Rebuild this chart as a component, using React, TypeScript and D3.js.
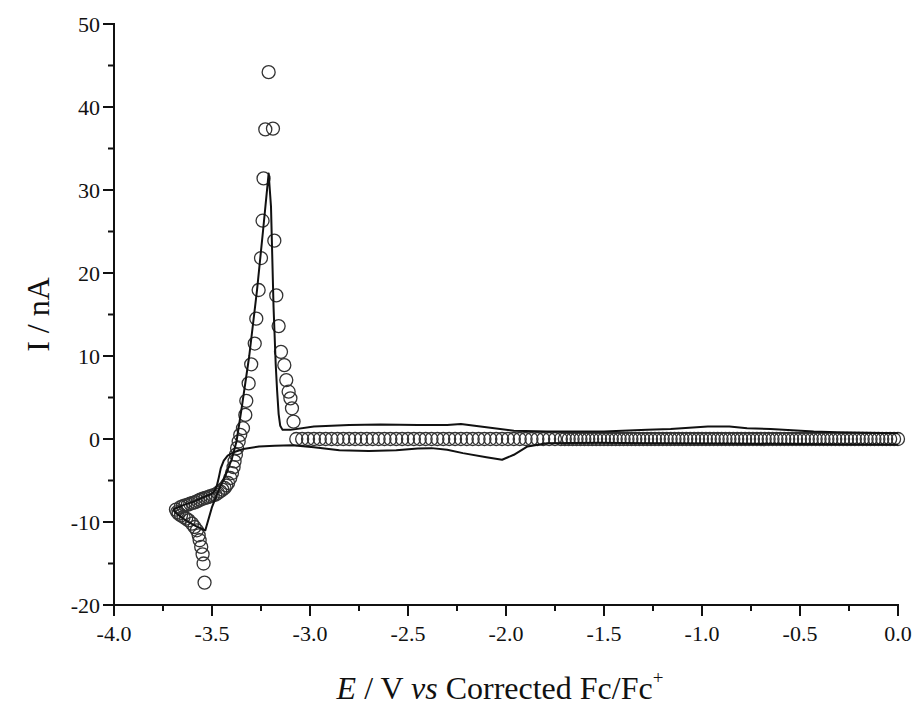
import React from "react";
import * as d3 from "d3";

// ---- Data ----
// Solid line: experimental CV, forward (cathodic) scan
const forwardE = [0, -0.31, -0.5, -0.8, -1.0, -1.3, -1.52, -1.79, -1.89, -1.96, -2.02, -2.1, -2.22, -2.3, -2.38, -2.45, -2.56, -2.7, -2.85, -2.98, -3.09, -3.18, -3.26, -3.34, -3.39, -3.42, -3.44, -3.455, -3.465, -3.475, -3.485, -3.5, -3.55, -3.6, -3.65, -3.69, -3.7];
const forwardI = [-0.65, -0.62, -0.6, -0.58, -0.55, -0.5, -0.45, -0.5, -0.9, -1.9, -2.5, -2.2, -1.7, -1.3, -1.1, -1.15, -1.35, -1.45, -1.35, -1.0, -0.75, -0.8, -0.9, -1.2, -1.6, -2.0, -2.6, -3.5, -4.6, -5.6, -6.2, -6.6, -7.1, -7.6, -8.0, -8.4, -8.5];
// Solid line: reverse (anodic) scan
const reverseE = [-3.7, -3.68, -3.64, -3.59, -3.534, -3.5, -3.47, -3.43, -3.4, -3.375, -3.35, -3.31, -3.27, -3.24, -3.211, -3.205, -3.199, -3.186, -3.175, -3.168, -3.16, -3.152, -3.14, -3.1, -2.98, -2.8, -2.64, -2.45, -2.3, -2.23, -2.13, -1.96, -1.79, -1.5, -1.28, -1.16, -0.97, -0.86, -0.77, -0.65, -0.43, -0.31, 0];
const reverseI = [-8.5, -9.0, -9.7, -10.4, -11.0, -8.2, -6.4, -4.3, -2.5, -0.3, 3.5, 10, 18, 25, 32, 30, 28, 15.9, 9, 5.9, 3, 1.6, 1.1, 1.1, 1.5, 1.7, 1.75, 1.7, 1.7, 1.8, 1.5, 1.0, 0.9, 0.9, 1.1, 1.2, 1.5, 1.5, 1.3, 1.2, 0.9, 0.8, 0.7];

// Open circles: simulated points around the deposition / stripping region
const circleE = [-3.538, -3.543, -3.548, -3.555, -3.563, -3.568, -3.577, -3.589, -3.602, -3.619, -3.632, -3.645, -3.658, -3.67, -3.677, -3.684,
  -3.66, -3.648, -3.636, -3.623, -3.611, -3.598, -3.585, -3.572, -3.56, -3.547, -3.534, -3.521, -3.509, -3.496, -3.483, -3.47, -3.458, -3.447, -3.436, -3.427, -3.418, -3.407, -3.398, -3.39, -3.385, -3.378, -3.372, -3.364, -3.356,
  -3.342, -3.33, -3.325, -3.313, -3.3, -3.282, -3.274, -3.262, -3.25, -3.242, -3.237, -3.228, -3.211,
  -3.189, -3.182, -3.172, -3.16, -3.148, -3.131, -3.121, -3.109, -3.1, -3.092, -3.084];
const circleI = [-17.3, -15.0, -13.9, -13.0, -12.2, -11.6, -11.0, -10.6, -10.2, -9.8, -9.6, -9.4, -9.2, -9.0, -8.8, -8.5,
  -8.2, -8.1, -8.0, -7.9, -7.8, -7.7, -7.6, -7.45, -7.3, -7.2, -7.1, -7.0, -6.9, -6.8, -6.7, -6.5, -6.3, -6.1, -5.9, -5.6, -5.3, -4.7, -4.1, -3.4, -2.7, -1.9, -1.1, -0.3, 0.5,
  1.3, 2.9, 4.6, 6.7, 9.0, 11.5, 14.5, 17.95, 21.8, 26.3, 31.4, 37.3, 44.2,
  37.4, 23.9, 17.3, 13.6, 10.5, 8.9, 7.1, 5.7, 4.9, 3.7, 2.1];

// Open circles: flat zero-current band
const bandE = [-3.07, -3.04, -3.01, -2.98, -2.95, -2.92, -2.89, -2.86, -2.83, -2.8, -2.77, -2.74, -2.71, -2.68, -2.65, -2.62, -2.59, -2.56, -2.53, -2.5, -2.47, -2.44, -2.41, -2.38, -2.35, -2.32, -2.29, -2.26, -2.23, -2.2, -2.17, -2.14, -2.11, -2.08, -2.05, -2.02, -1.99, -1.96, -1.93, -1.9, -1.87, -1.84, -1.81, -1.78, -1.75,
  -1.72, -1.7, -1.68, -1.66, -1.64, -1.62, -1.6, -1.58, -1.56, -1.54, -1.52, -1.5, -1.48, -1.46, -1.44, -1.42, -1.4, -1.38, -1.36, -1.34, -1.32, -1.3, -1.28, -1.26, -1.24, -1.22, -1.2, -1.18, -1.16, -1.14, -1.12, -1.1, -1.08, -1.06, -1.04, -1.02, -1.0,
  -0.98, -0.96, -0.94, -0.92, -0.9, -0.88, -0.86, -0.84, -0.82, -0.8, -0.78, -0.76, -0.74, -0.72, -0.7, -0.68, -0.66, -0.64, -0.62, -0.6, -0.58, -0.56, -0.54, -0.52, -0.5,
  -0.48, -0.46, -0.44, -0.42, -0.4, -0.38, -0.36, -0.34, -0.32, -0.3, -0.28, -0.26, -0.24, -0.22, -0.2, -0.18, -0.16, -0.14, -0.12, -0.1, -0.08, -0.06, -0.04, -0.02, 0];
const bandI = 0;

const xMajorTicks = [-4.0, -3.5, -3.0, -2.5, -2.0, -1.5, -1.0, -0.5, 0.0];
const xMinorTicks = [-3.75, -3.25, -2.75, -2.25, -1.75, -1.25, -0.75, -0.25];
const yMajorTicks = [-20, -10, 0, 10, 20, 30, 40, 50];
const yMinorTicks = [-15, -5, 5, 15, 25, 35, 45];

const FONT = "'Liberation Serif', 'Times New Roman', serif";

export default function App() {
  const W = 916, H = 706;
  const left = 114, right = 898, top = 24, bottom = 605;
  const x = d3.scaleLinear().domain([-4, 0]).range([left, right]);
  const y = d3.scaleLinear().domain([-20, 50]).range([bottom, top]);

  const line = d3.line<[number, number]>().x(d => x(d[0])).y(d => y(d[1])).curve(d3.curveLinear);
  const fwd: [number, number][] = forwardE.map((e, i) => [e, forwardI[i]]);
  const rev: [number, number][] = reverseE.map((e, i) => [e, reverseI[i]]);

  const circles: [number, number][] = [
    ...bandE.map(e => [e, bandI] as [number, number]),
    ...circleE.map((e, i) => [e, circleI[i]] as [number, number]),
  ];

  const fmtX = (v: number) => v.toFixed(1);

  return (
    <svg width={W} height={H} style={{ position: "absolute", left: 0, top: 0, background: "#fff" }}>
      <rect x={0} y={0} width={W} height={H} fill="#fff" />
      {/* circles */}
      <g fill="none" stroke="#333" strokeWidth={1.3}>
        {circles.map((d, i) => (
          <circle key={i} cx={x(d[0])} cy={y(d[1])} r={6.5} />
        ))}
      </g>
      {/* lines */}
      <path d={line(fwd) || ""} fill="none" stroke="#111" strokeWidth={2} strokeLinejoin="round" />
      <path d={line(rev) || ""} fill="none" stroke="#111" strokeWidth={2} strokeLinejoin="round" />

      {/* axes */}
      <g stroke="#111" strokeWidth={2}>
        <line x1={left} x2={left} y1={top - 1} y2={bottom + 1} />
        <line x1={left - 1} x2={right + 1} y1={bottom} y2={bottom} />
        {yMajorTicks.map(t => (
          <line key={"ym" + t} x1={left - 11} x2={left} y1={y(t)} y2={y(t)} />
        ))}
        {yMinorTicks.map(t => (
          <line key={"yn" + t} x1={left - 6} x2={left} y1={y(t)} y2={y(t)} />
        ))}
        {xMajorTicks.map(t => (
          <line key={"xm" + t} x1={x(t)} x2={x(t)} y1={bottom} y2={bottom + 11} />
        ))}
        {xMinorTicks.map(t => (
          <line key={"xn" + t} x1={x(t)} x2={x(t)} y1={bottom} y2={bottom + 6} />
        ))}
      </g>
      <g fontFamily={FONT} fontSize={22} fill="#111">
        {yMajorTicks.map(t => (
          <text key={"yl" + t} x={left - 14} y={y(t)} dy="0.35em" textAnchor="end">{t}</text>
        ))}
        {xMajorTicks.map(t => (
          <text key={"xl" + t} x={x(t)} y={bottom + 36} textAnchor="middle">{fmtX(t)}</text>
        ))}
      </g>
      <text fontFamily={FONT} fontSize={32} fill="#111" textAnchor="middle"
        transform={`translate(49, ${(top + bottom) / 2}) rotate(-90)`}>I / nA</text>
      <text fontFamily={FONT} fontSize={32} fill="#111" textAnchor="middle" x={(left + right) / 2 - 6} y={699}>
        <tspan fontStyle="italic">E</tspan>
        <tspan> / V </tspan>
        <tspan fontStyle="italic">vs</tspan>
        <tspan> Corrected Fc/Fc</tspan>
        <tspan fontSize={19} dy={-15}>+</tspan>
      </text>
    </svg>
  );
}
